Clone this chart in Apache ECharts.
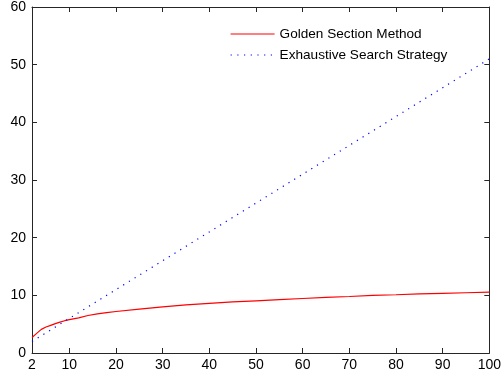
<!DOCTYPE html>
<html>
<head>
<meta charset="utf-8">
<script src="https://cdn.jsdelivr.net/npm/echarts@6/dist/echarts.min.js"></script>
<style>html,body{margin:0;padding:0;background:#fff}#c{width:504px;height:379px}</style>
</head>
<body>
<div id="c"></div>
<script>
const seriesNames = ['Golden Section Method', 'Exhaustive Search Strategy'];
const goldenX = [2,3,4,5,6,7,8,9,10,12,14,16,18,20,25,30,35,40,45,50,55,60,65,70,75,80,85,90,95,100];
const goldenY = [2.7,3.4,4.1,4.5,4.8,5.1,5.35,5.6,5.8,6.1,6.5,6.8,7.0,7.2,7.6,8.0,8.35,8.6,8.85,9.05,9.25,9.45,9.65,9.8,10.0,10.1,10.25,10.35,10.45,10.55];
const exhaustiveX = [2,10,20,30,40,50,60,70,80,90,100];
const exhaustiveY = [2,6,11,16,21,26,31,36,41,46,51];
const xTicks = [2,10,20,30,40,50,60,70,80,90,100];
const yTicks = [0,10,20,30,40,50,60];

const chart = echarts.init(document.getElementById('c'), null, {renderer:'canvas'});
const axisFont = {fontFamily:'Liberation Sans, Arial, sans-serif', fontSize:14, color:'#000'};
const lineCol = '#262626';
const redStyle = {color:'#ff0000', width:1.2, type:'solid'};
const blueStyle = {color:'#0000ff', width:1.2, type:[1.2,5.5]};
function xAxis(pos, show){
  return {type:'value', position:pos, min:2, max:100,
    axisLine:{show:true, onZero:false, lineStyle:{color:lineCol,width:1}},
    axisTick:{show:true, inside:true, length:5, customValues:xTicks, lineStyle:{color:lineCol}},
    axisLabel:{show:show, customValues:xTicks, margin:5, ...axisFont},
    splitLine:{show:false}};
}
function yAxis(pos, show){
  return {type:'value', position:pos, min:0, max:60, interval:10,
    axisLine:{show:true, onZero:false, lineStyle:{color:lineCol,width:1}},
    axisTick:{show:true, inside:true, length:5, customValues:yTicks, lineStyle:{color:lineCol}},
    axisLabel:{show:show, customValues:yTicks, margin:6, ...axisFont},
    splitLine:{show:false}};
}
chart.setOption({
  animation:false,
  backgroundColor:'#fff',
  grid:{left:32, right:10, top:5, bottom:26, containLabel:false},
  legend:{orient:'vertical', left:225, top:22, itemWidth:44, itemHeight:12, itemGap:7,
    textStyle:{fontFamily:'Liberation Sans, Arial, sans-serif', fontSize:13.6, color:'#000', padding:[0,0,0,0]},
    itemStyle:{opacity:0},
    data:[{name:seriesNames[0], lineStyle:redStyle, itemStyle:{opacity:0}},
          {name:seriesNames[1], lineStyle:blueStyle, itemStyle:{opacity:0}}]},
  xAxis:[xAxis('bottom', true), xAxis('top', false)],
  yAxis:[yAxis('left', true), yAxis('right', false)],
  series:[
    {name:seriesNames[0], type:'line', xAxisIndex:0, yAxisIndex:0, showSymbol:false, symbol:'none', smooth:false,
     lineStyle:redStyle, itemStyle:{color:'#ff0000'},
     data: goldenX.map((x,i)=>[x, goldenY[i]])},
    {name:seriesNames[1], type:'line', xAxisIndex:0, yAxisIndex:0, showSymbol:false, symbol:'none',
     lineStyle:blueStyle, itemStyle:{color:'#0000ff'},
     data: exhaustiveX.map((x,i)=>[x, exhaustiveY[i]])}
  ]
});
</script>
</body>
</html>
